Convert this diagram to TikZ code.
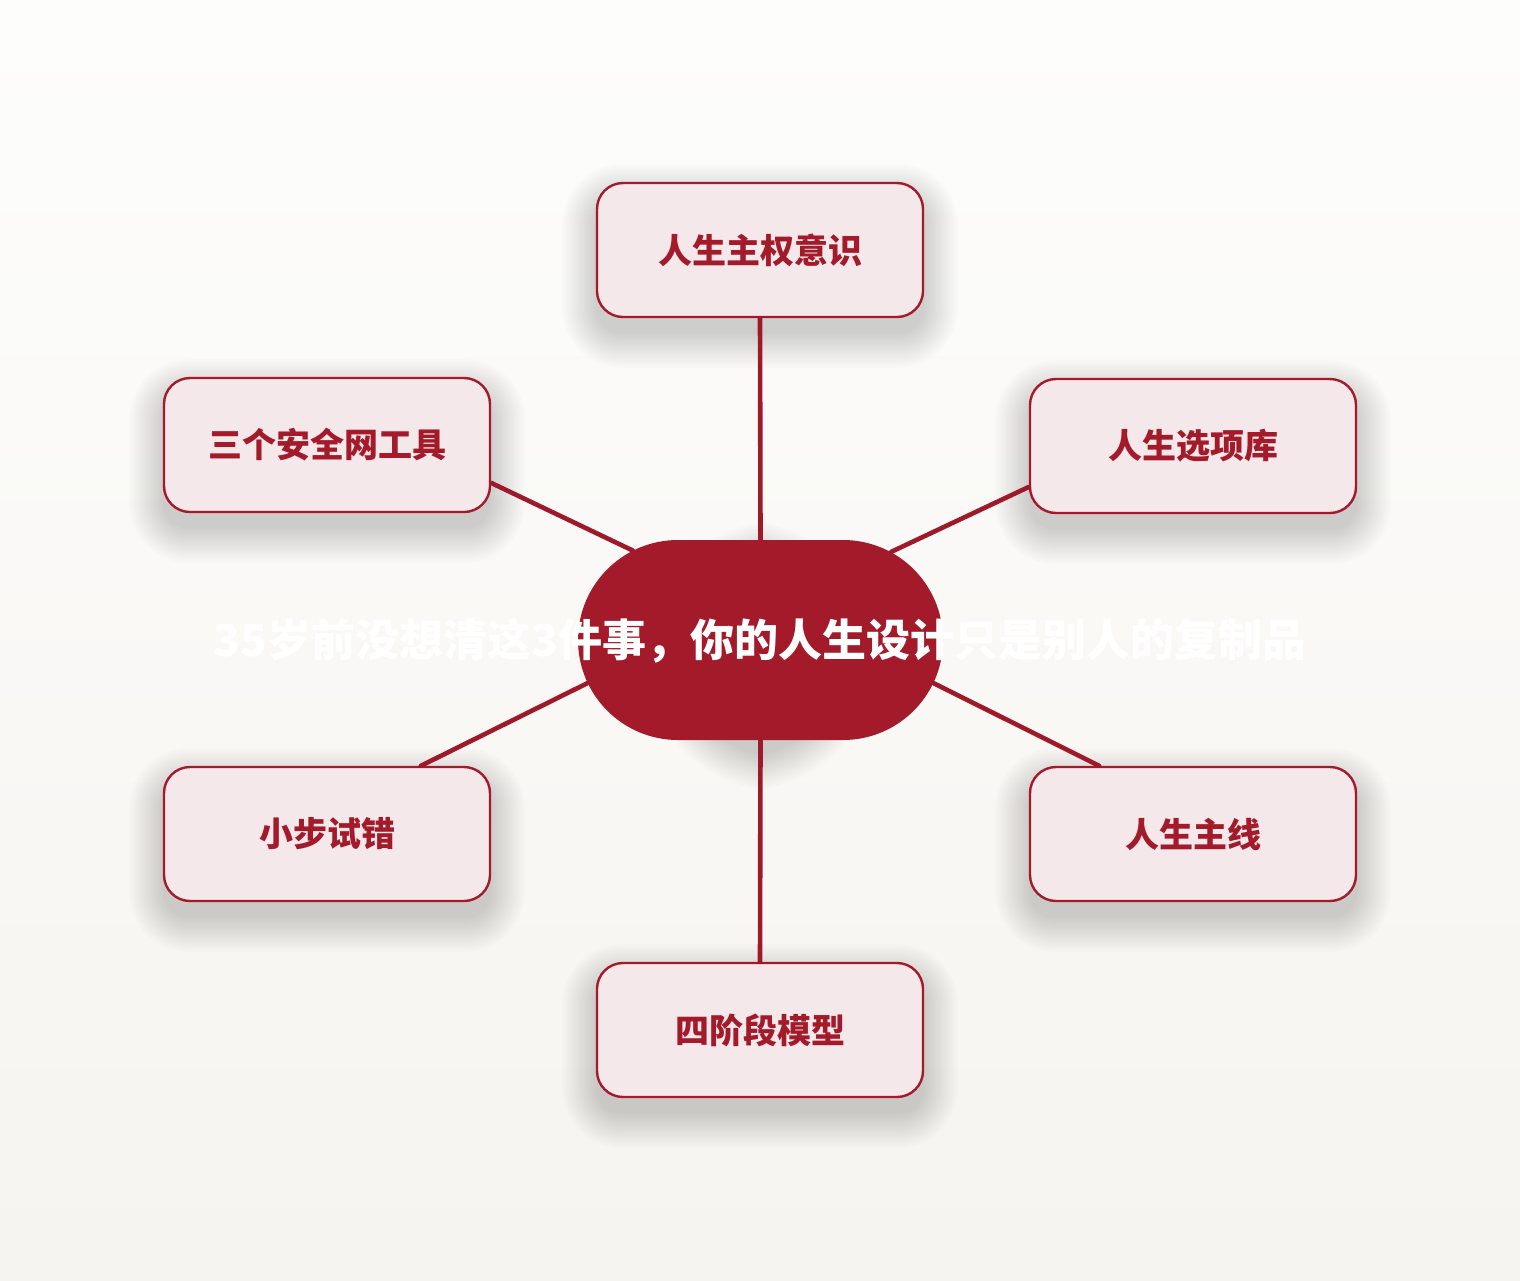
\documentclass[tikz,border=0pt]{standalone}
\usepackage{fontspec}
\newfontfamily\cjk{Noto Sans CJK SC}
\usetikzlibrary{shapes.misc,calc,backgrounds}
\definecolor{bgtop}{HTML}{FDFDFC}
\definecolor{bgbot}{HTML}{F6F4F0}
\definecolor{mainred}{HTML}{A31A2B}
\definecolor{linered}{HTML}{9E1A2A}
\definecolor{boxfill}{HTML}{F5E8EA}
\tikzset{
  topic/.style={draw=mainred, line width=1.2pt, fill=boxfill, rounded corners=13pt,
    minimum width=163pt, minimum height=67pt, inner sep=0pt,
    text=mainred, font=\cjk\bfseries\fontsize{17pt}{20pt}\selectfont},
  centre/.style={rounded rectangle, fill=mainred, minimum width=182.5pt, minimum height=100pt,
    inner sep=0pt},
  titletext/.style={text=white, font=\cjk\bfseries\fontsize{22pt}{26pt}\selectfont, inner sep=0pt},
  conn/.style={draw=linered, line width=2.3pt, line cap=round},
  shadowlayer/.style={fill=black, opacity=0.011}
}
\newcommand\mysoftshadow[2]{%
  \foreach \d in {0,1.2,...,16.8}{%
    \pgfmathsetmacro\myrad{#2+\d}%
    \fill[shadowlayer, rounded corners=\myrad pt]
      ($(#1.south west)+(-\d pt,-\d pt-8pt)$) rectangle ($(#1.north east)+(\d pt,\d pt-8pt)$);
  }}
\begin{document}
\begin{tikzpicture}[x=0.5pt,y=-0.5pt]
\useasboundingbox (0,0) rectangle (1520,1280);
\node[centre] (c) at (760.5,640) {};
\node[topic] (t)  at (760,250) {\raisebox{-1.5pt}{人生主权意识}};
\node[topic] (ul) at (327,445) {\raisebox{-1.5pt}{三个安全网工具}};
\node[topic] (ur) at (1193,446) {\raisebox{-1.5pt}{人生选项库}};
\node[topic] (ll) at (327,834) {\raisebox{-1.5pt}{小步试错}};
\node[topic] (lr) at (1193,834) {\raisebox{-1.5pt}{人生主线}};
\node[topic] (b)  at (760,1030) {\raisebox{-1.5pt}{四阶段模型}};
\begin{pgfonlayer}{background}
\shade[top color=bgtop, bottom color=bgbot] (0,0) rectangle (1520,1280);
\mysoftshadow{c}{50}
\mysoftshadow{t}{13}
\mysoftshadow{ul}{13}
\mysoftshadow{ur}{13}
\mysoftshadow{ll}{13}
\mysoftshadow{lr}{13}
\mysoftshadow{b}{13}
\end{pgfonlayer}
\draw[conn] (t.south) -- (c.north);
\draw[conn] (b.north) -- (c.south);
\draw[conn] (ul.-13) -- (c.145.5);
\draw[conn] (ur.-166) -- (c.34.7);
\draw[conn] (ll.36.4) -- (c.-166);
\draw[conn] (lr.144) -- (c.-14.7);
\node[titletext] (ct) at (760,641) {35岁前没想清这3件事，你的人生设计只是别人的复制品};
\end{tikzpicture}
\end{document}
